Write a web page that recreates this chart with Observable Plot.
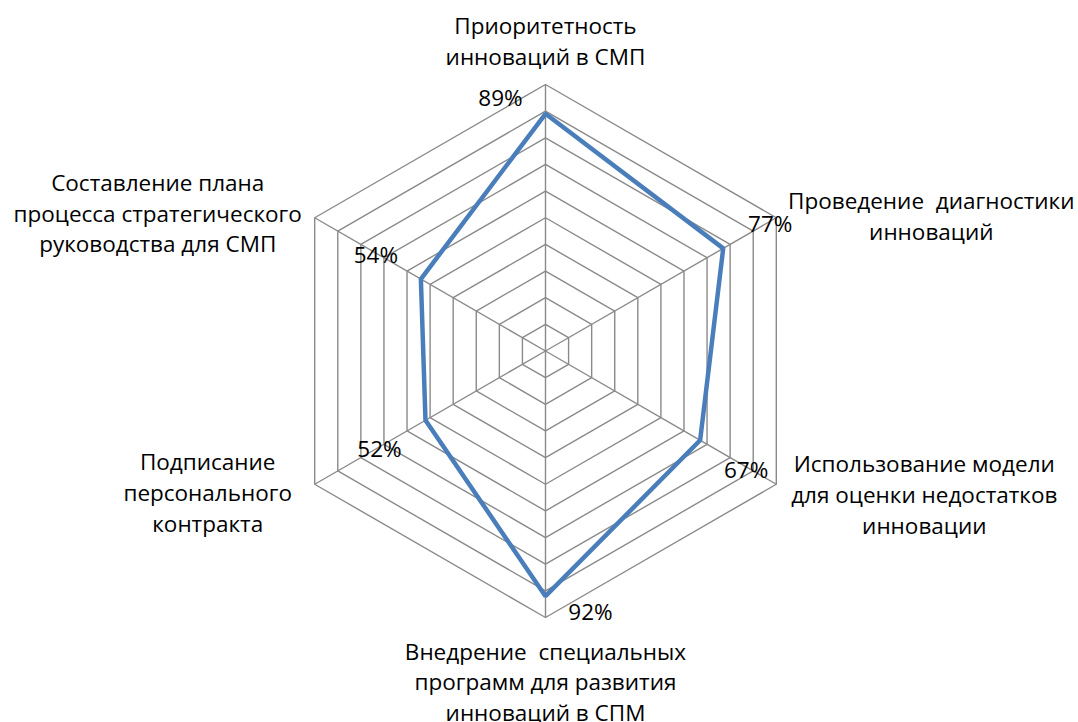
<!DOCTYPE html>
<html>
<head>
<meta charset="utf-8">
<script src="https://cdn.jsdelivr.net/npm/d3@7"></script>
<script src="https://cdn.jsdelivr.net/npm/@observablehq/plot@0.6"></script>
<style>
  html, body { margin: 0; padding: 0; background: #fff; }
  #chart { width: 1078px; height: 722px; }
</style>
</head>
<body>
<div id="chart"></div>
<script>
// Categories (clockwise from the top)
const categories = [
  "Приоритетность\nинноваций в СМП",
  "Проведение  диагностики\nинноваций",
  "Использование модели\nдля оценки недостатков\nинновации",
  "Внедрение  специальных\nпрограмм для развития\nинноваций в СПМ",
  "Подписание\nперсонального\nконтракта",
  "Составление плана\nпроцесса стратегического\nруководства для СМП"
];
// Series values (%)
const values = [89, 77, 67, 92, 52, 54];
// Grid ring levels (%)
const gridLevels = [10, 20, 30, 40, 50, 60, 70, 80, 90, 100];

// Label offsets (style only)
const catDx = [0, 155, 148, 0, -107, -157];
const catDy = [-45, -3, 9, 63, 7, -6];
const valDx = [-45, 47, 46, 45, -46, -45];
const valDy = [-15, -24, 31, 17, 30, -23];

const n = categories.length;
const angle = i => Math.PI / 2 - i * 2 * Math.PI / n;
const px = (i, v) => (v / 100) * Math.cos(angle(i));
const py = (i, v) => (v / 100) * Math.sin(angle(i));

const ringPts = gridLevels.flatMap(l => categories.map((c, i) => ({ring: l, x: px(i, l), y: py(i, l)})));
const spokes = categories.map((c, i) => ({x1: 0, y1: 0, x2: px(i, 100), y2: py(i, 100)}));
const series = values.map((v, i) => ({x: px(i, v), y: py(i, v), v, i}));
const catPts = categories.map((c, i) => ({x: px(i, 100), y: py(i, 100), label: c, i}));

const cx = 545, cy = 350.5, R = 266.5;
const font = "'Open Sans', 'Noto Sans', sans-serif";
const fs = 22.5;

const chart = Plot.plot({
  width: 1078,
  height: 722,
  margin: 0,
  x: {domain: [-1, 1], range: [cx - R, cx + R], axis: null},
  y: {domain: [-1, 1], range: [cy + R, cy - R], axis: null},
  style: {fontFamily: font, background: "#fff"},
  marks: [
    Plot.line(ringPts, {x: "x", y: "y", z: "ring", curve: "linear-closed", stroke: "#8a8a8a", strokeWidth: 1.4}),
    Plot.link(spokes, {x1: "x1", y1: "y1", x2: "x2", y2: "y2", stroke: "#8a8a8a", strokeWidth: 1.4}),
    Plot.line(series, {x: "x", y: "y", curve: "linear-closed", stroke: "#4a7ebb", strokeWidth: 4.5, strokeLinejoin: "miter"}),
    ...series.map((d, k) => Plot.text([d], {x: "x", y: "y", text: d => d.v + "%", dx: valDx[k], dy: valDy[k], fontSize: fs, fill: "#000", fontFamily: font})),
    ...catPts.map((d, k) => Plot.text([d], {x: "x", y: "y", text: "label", dx: catDx[k], dy: catDy[k], fontSize: fs, fill: "#000", textAnchor: "middle", lineAnchor: "middle", lineHeight: 1.36, fontFamily: font}))
  ]
});
document.getElementById("chart").appendChild(chart);
</script>
</body>
</html>
